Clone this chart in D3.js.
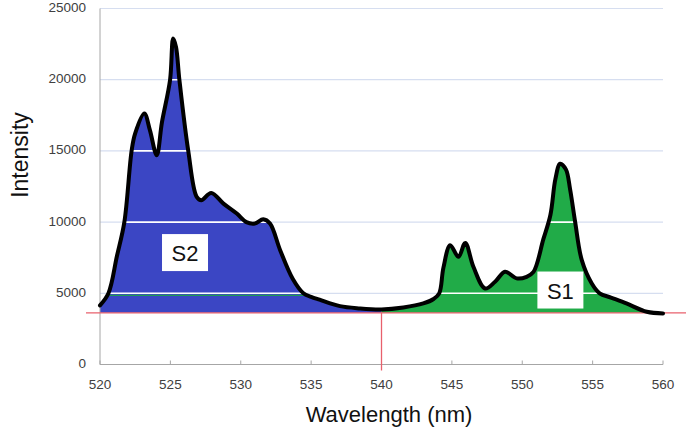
<!DOCTYPE html>
<html><head><meta charset="utf-8">
<script src="https://cdn.jsdelivr.net/npm/d3@7"></script>
<style>html,body{margin:0;padding:0;background:#fff;}svg{display:block;}</style>
</head><body>
<svg id="c" width="686" height="435"></svg>
<script>
// ---- data ----
const wavelength = [520.0,520.6,521.2,521.73,522.25,522.5,523.15,523.55,524.03,524.4,524.98,525.2,525.4,525.64,526.27,526.87,527.2,527.9,528.77,529.72,530.4,531.0,531.6,532.08,532.8,533.7,534.45,535.0,535.6,537.05,538.47,540.0,541.55,542.97,543.7,544.1,544.4,544.88,545.47,545.95,546.53,547.36,548.07,548.78,549.6,550.31,550.8,551.5,552.0,552.35,552.69,553.1,553.4,553.76,554.23,554.94,555.5,556.3,557.4,558.85,560.0];
const intensity  = [4150,5000,7600,10000,15040,16230,17620,16440,14690,17000,20000,22900,22300,20000,15000,11770,11540,12050,11300,10600,10000,9900,10200,9900,8030,6000,5000,4750,4550,4100,3940,3870,4010,4290,4600,5000,6800,8380,7560,8540,6860,5340,5810,6510,6050,6160,6500,8800,10500,13000,14100,13700,12300,10000,7330,5690,5000,4700,4290,3700,3590];
const baseline = 3630;
const splitAt = 540;
const yTicks = [0,5000,10000,15000,20000,25000];
const xTicks = [520,525,530,535,540,545,550,555,560];
const regionLabels = [{name:"S2", wl:526.04, val:7860},{name:"S1", wl:552.71, val:5230}];

const svg = d3.select("#c");
const x = d3.scaleLinear().domain([520,560]).range([100,663]);
const y = d3.scaleLinear().domain([0,25000]).range([364.5,8.5]);

const pts = wavelength.map((w,i)=>({w, v:intensity[i]}));
const s2 = pts.filter(p=>p.w<=splitAt);
const s1 = pts.filter(p=>p.w>=splitAt);

// gridlines (light)
svg.append("g").selectAll("line").data(yTicks.filter(t=>t>0)).join("line")
  .attr("x1",x(520)).attr("x2",x(560)).attr("y1",d=>y(d)).attr("y2",d=>y(d))
  .attr("stroke","#d6def0").attr("stroke-width",1.2);

const curve = d3.curveCatmullRom.alpha(0.5);
const area = d3.area().x(d=>x(d.w)).y0(y(baseline)).y1(d=>y(d.v)).curve(curve);
const line = d3.line().x(d=>x(d.w)).y(d=>y(d.v)).curve(curve);

const defs = svg.append("defs");
defs.append("clipPath").attr("id","clipS2").append("path").attr("d",area(s2));
defs.append("clipPath").attr("id","clipAll").append("path").attr("d",area(s2)+area(s1));

svg.append("path").attr("d",area(s2)).attr("fill","#3b46c4");
svg.append("path").attr("d",area(s1)).attr("fill","#21ab48");

// green line under 5000 inside S2
svg.append("line").attr("clip-path","url(#clipS2)")
  .attr("x1",x(520)).attr("x2",x(560)).attr("y1",y(5000)+2).attr("y2",y(5000)+2)
  .attr("stroke","#1f9a55").attr("stroke-width",1.2);

// white gridlines inside fills
svg.append("g").attr("clip-path","url(#clipAll)").selectAll("line").data(yTicks.filter(t=>t>0)).join("line")
  .attr("x1",x(520)).attr("x2",x(560)).attr("y1",d=>y(d)).attr("y2",d=>y(d))
  .attr("stroke","#ffffff").attr("stroke-width",1.6);

// axes
svg.append("line").attr("x1",x(520)).attr("x2",x(520)).attr("y1",y(25000)).attr("y2",y(0))
  .attr("stroke","#a6a6a6").attr("stroke-width",1);
svg.append("line").attr("x1",x(520)).attr("x2",x(560)).attr("y1",y(0)).attr("y2",y(0))
  .attr("stroke","#a6a6a6").attr("stroke-width",1);
svg.append("g").selectAll("line").data(xTicks).join("line")
  .attr("x1",d=>x(d)).attr("x2",d=>x(d)).attr("y1",y(0)-4).attr("y2",y(0))
  .attr("stroke","#a6a6a6").attr("stroke-width",1);

// baseline red line & marker at 540
svg.append("line").attr("x1",86).attr("x2",686).attr("y1",y(baseline)).attr("y2",y(baseline))
  .attr("stroke","#e8606c").attr("stroke-width",1.3);
svg.append("line").attr("x1",x(splitAt)).attr("x2",x(splitAt)).attr("y1",y(baseline)).attr("y2",y(0)+6)
  .attr("stroke","#e8606c").attr("stroke-width",1.3);

// spectrum line
svg.append("path").attr("d",line(pts)).attr("fill","none")
  .attr("stroke","#000").attr("stroke-width",4).attr("stroke-linejoin","round").attr("stroke-linecap","round");

// tick labels
svg.append("g").selectAll("text").data(yTicks).join("text")
  .attr("x",86).attr("y",d=>y(d)).attr("text-anchor","end").attr("dominant-baseline","middle")
  .attr("font-family","Liberation Sans, Arial, sans-serif").attr("font-size",13.5).attr("fill","#404040")
  .text(d=>d);
svg.append("g").selectAll("text").data(xTicks).join("text")
  .attr("x",d=>x(d)).attr("y",385).attr("text-anchor","middle").attr("dominant-baseline","middle")
  .attr("font-family","Liberation Sans, Arial, sans-serif").attr("font-size",13.5).attr("fill","#404040")
  .text(d=>d);

// titles
svg.append("text").attr("transform","translate(28,155) rotate(-90)").attr("text-anchor","middle")
  .attr("font-family","Liberation Sans, Arial, sans-serif").attr("font-size",23).attr("fill","#111")
  .text("Intensity");
svg.append("text").attr("x",389).attr("y",422).attr("text-anchor","middle")
  .attr("font-family","Liberation Sans, Arial, sans-serif").attr("font-size",22).attr("fill","#111")
  .text("Wavelength (nm)");

// region labels
const lg = svg.append("g").selectAll("g").data(regionLabels).join("g")
  .attr("transform",d=>`translate(${x(d.wl)},${y(d.val)})`);
lg.append("rect").attr("x",-23).attr("y",-18.5).attr("width",46).attr("height",37).attr("fill","#fff");
lg.append("text").attr("text-anchor","middle").attr("dominant-baseline","central").attr("y",1)
  .attr("font-family","Liberation Sans, Arial, sans-serif").attr("font-size",22).attr("fill","#111")
  .text(d=>d.name);
</script>
</body></html>
